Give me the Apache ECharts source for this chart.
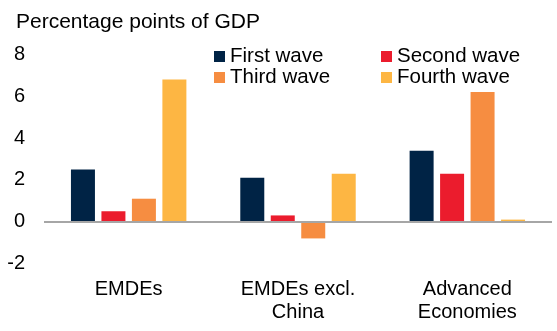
<!DOCTYPE html>
<html>
<head>
<meta charset="utf-8">
<script src="https://cdn.jsdelivr.net/npm/echarts@6/dist/echarts.min.js"></script>
<style>html,body{margin:0;padding:0;background:#fff}#c{width:557px;height:331px}</style>
</head>
<body>
<div id="c"></div>
<script>
const categories = ['EMDEs', 'EMDEs excl.\nChina', 'Advanced\nEconomies'];
const seriesNames = ['First wave', 'Second wave', 'Third wave', 'Fourth wave'];
const firstWave = [2.5, 2.1, 3.4];
const secondWave = [0.5, 0.3, 2.3];
const thirdWave = [1.1, -0.8, 6.2];
const fourthWave = [6.8, 2.3, 0.1];
const yTicks = [-2, 0, 2, 4, 6, 8];
const colors = ['#002345', '#EB1C2D', '#F68D41', '#FDB643'];
const values = [firstWave, secondWave, thirdWave, fourthWave];

const font = 'Liberation Sans, Arial, sans-serif';
const chart = echarts.init(document.getElementById('c'), null, {renderer: 'canvas'});
const series = seriesNames.map((n, i) => ({
  name: n,
  type: 'bar',
  data: values[i],
  barWidth: 24,
  barGap: '27%',
  itemStyle: {color: colors[i]},
  markLine: i === 0 ? {
    silent: true,
    symbol: 'none',
    label: {show: false},
    lineStyle: {color: '#A6A6A6', width: 2, type: 'solid'},
    data: [{yAxis: 0}]
  } : undefined
}));
chart.setOption({
  animation: false,
  title: {
    text: 'Percentage points of GDP',
    left: 11, top: 7,
    textStyle: {fontFamily: font, fontSize: 21, fontWeight: 'normal', color: '#000'}
  },
  legend: [
    {
      data: ['First wave', 'Third wave'],
      orient: 'vertical', left: 209, top: 41,
      itemWidth: 11, itemHeight: 11, itemGap: 0, icon: 'rect',
      textStyle: {fontFamily: font, fontSize: 20.5, color: '#000', lineHeight: 20}
    },
    {
      data: ['Second wave', 'Fourth wave'],
      orient: 'vertical', left: 376, top: 41,
      itemWidth: 11, itemHeight: 11, itemGap: 0, icon: 'rect',
      textStyle: {fontFamily: font, fontSize: 20.5, color: '#000', lineHeight: 20}
    }
  ],
  grid: {left: 44, right: 5, top: 54.5, bottom: 67.5, containLabel: false},
  xAxis: {
    type: 'category',
    data: categories,
    axisLine: {show: false, onZero: false},
    axisTick: {show: false},
    axisLabel: {fontFamily: font, fontSize: 20, color: '#000', margin: 14, lineHeight: 23, verticalAlign: 'top', interval: 0}
  },
  yAxis: {
    type: 'value',
    min: yTicks[0], max: yTicks[yTicks.length - 1], interval: 2,
    axisLine: {show: false},
    axisTick: {show: false},
    splitLine: {show: false},
    axisLabel: {fontFamily: font, fontSize: 20, color: '#000', margin: 19}
  },
  series: series
});
</script>
</body>
</html>
